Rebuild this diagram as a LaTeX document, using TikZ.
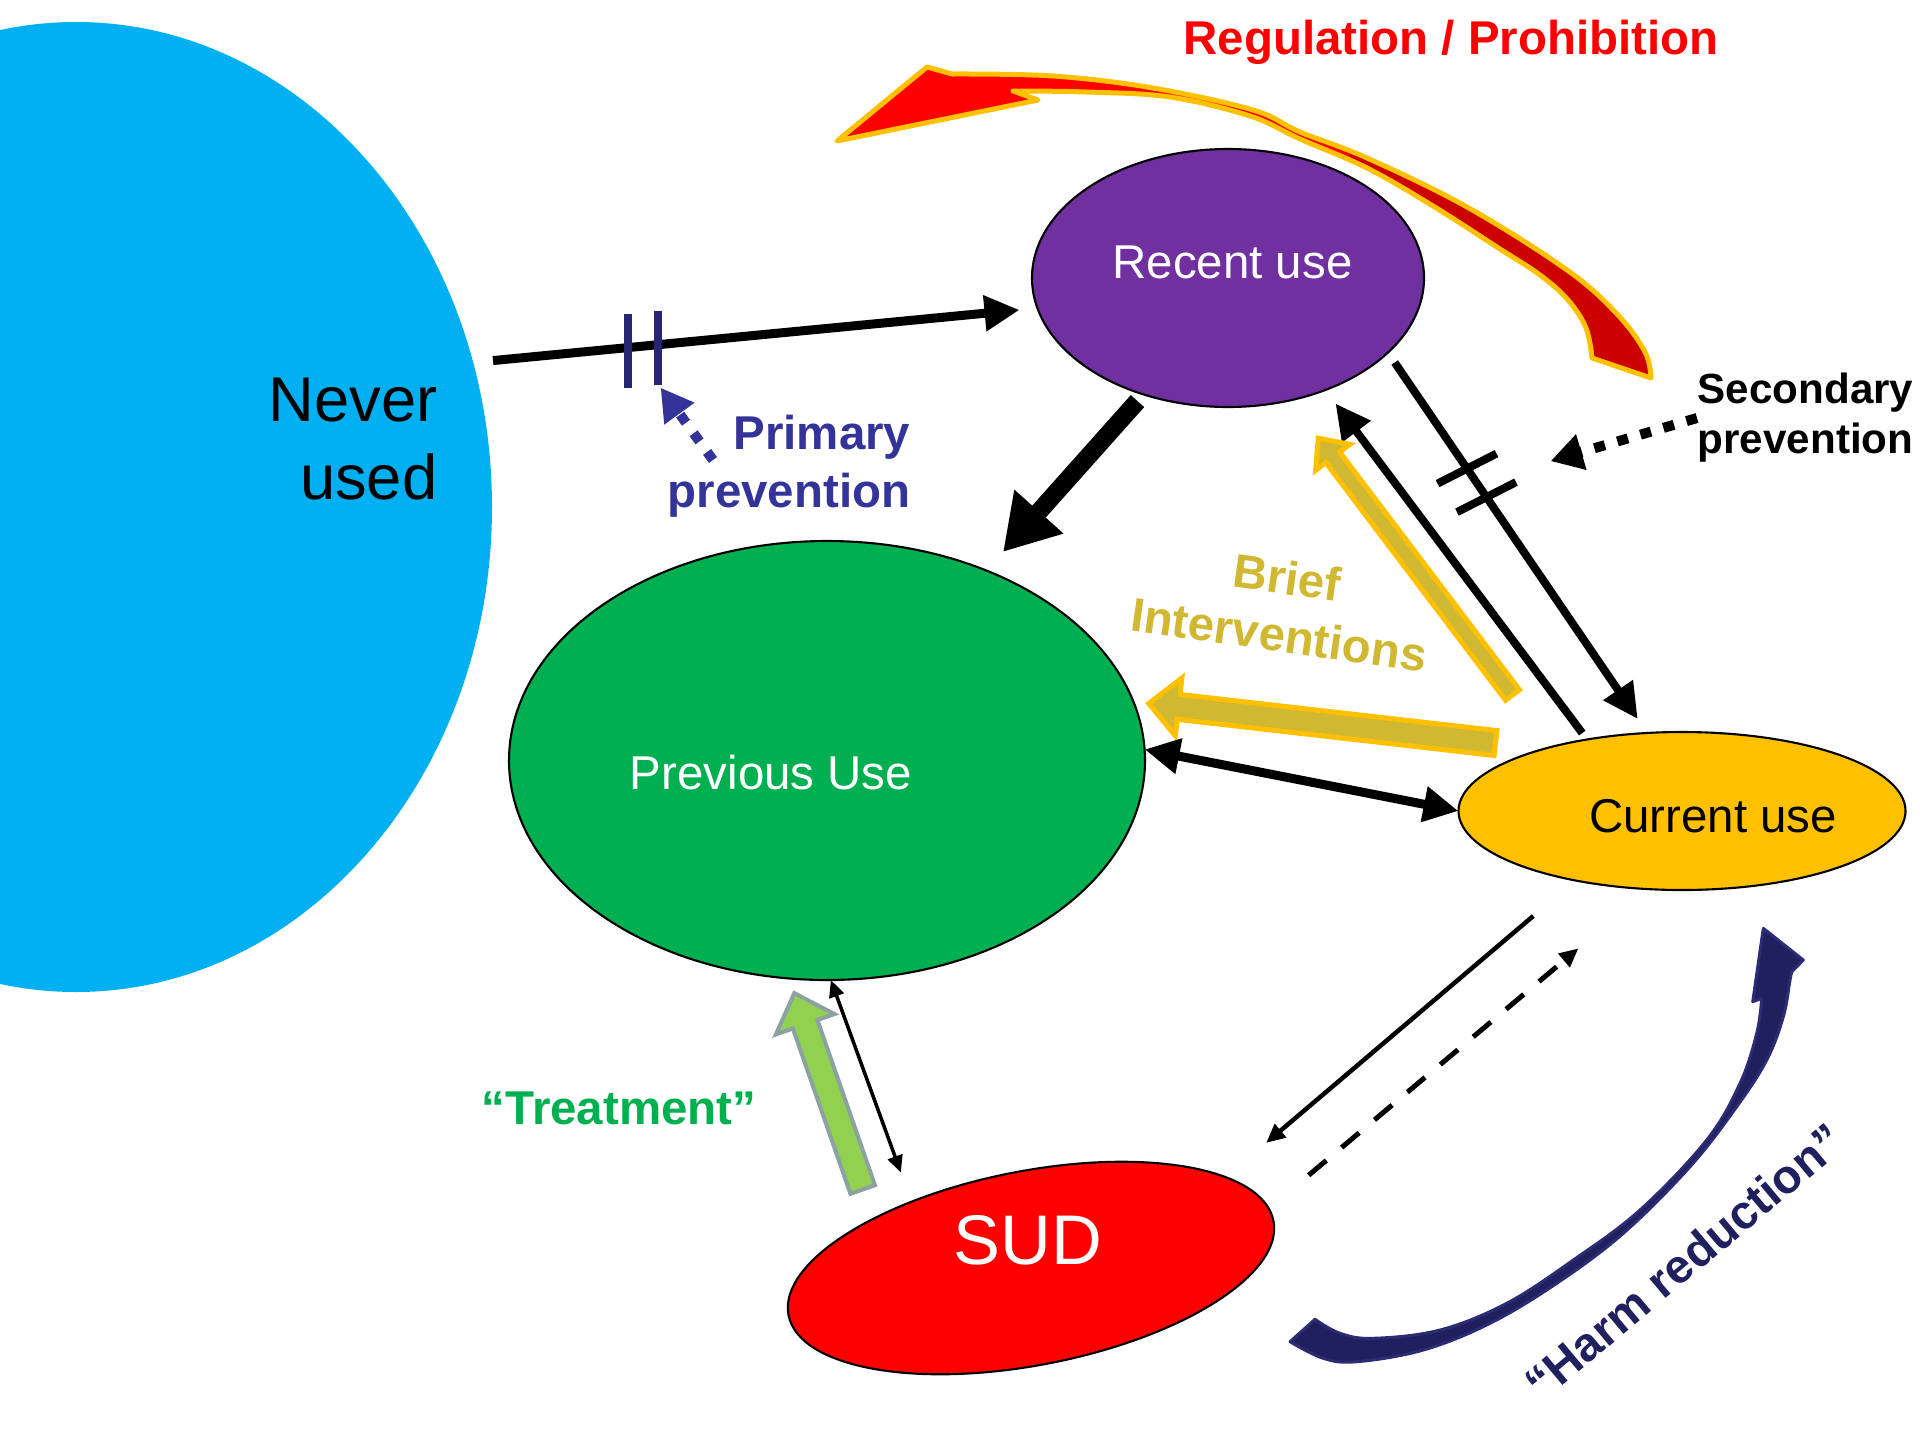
\documentclass[tikz,border=0pt]{standalone}
\usepackage{fontspec}
\setmainfont{Liberation Sans}
\usetikzlibrary{arrows.meta,shapes.geometric,calc}

\definecolor{neverblue}{RGB}{0,176,240}
\definecolor{recentpurple}{RGB}{112,48,160}
\definecolor{prevgreen}{RGB}{0,176,80}
\definecolor{curgold}{RGB}{255,192,0}
\definecolor{sudred}{RGB}{255,0,0}
\definecolor{regdark}{RGB}{204,0,0}
\definecolor{ppblue}{RGB}{51,51,153}
\definecolor{barnavy}{RGB}{38,38,115}
\definecolor{brieffill}{RGB}{209,184,50}
\definecolor{treatfill}{RGB}{146,208,80}
\definecolor{treatedge}{RGB}{140,162,162}
\definecolor{harmnavy}{RGB}{32,32,94}
\definecolor{harmedge}{RGB}{44,44,116}

\begin{document}
\begin{tikzpicture}[
    phase/.style = {ellipse, draw=black, line width=0.6pt, inner sep=0pt, outer sep=0pt},
    txt/.style = {inner sep=0pt, font=\fontsize{13.5}{16.5}\selectfont},
    bold/.style = {inner sep=0pt, font=\bfseries\fontsize{13.5}{16.5}\selectfont},
    flow/.style = {line width=0.09cm, -{Triangle[length=0.35cm, width=0.34cm]}},
    twoway/.style = {line width=0.09cm, {Triangle[length=0.35cm, width=0.34cm]}-{Triangle[length=0.35cm, width=0.34cm]}},
    bigflow/.style = {line width=0.18cm, -{Triangle[length=0.54cm, width=0.62cm]}},
    thinflow/.style = {line width=0.045cm, -{Triangle[length=0.19cm, width=0.17cm]}},
    tinyflow/.style = {line width=0.035cm, {Triangle[length=0.17cm, width=0.15cm]}-{Triangle[length=0.17cm, width=0.15cm]}},
    dotflow/.style = {line width=0.10cm, dash pattern=on 0.10cm off 0.13cm, -{Triangle[length=0.32cm, width=0.35cm]}},
    cutbar/.style = {line width=0.08cm},
    brief/.style = {fill=brieffill, draw=curgold, line width=0.05cm},
    pics/blockarrow/.style n args={4}{code={
        \path[pic actions] (0,-#2) -- ({#1-#4},-#2) -- ({#1-#4},-#3) -- (#1,0)
            -- ({#1-#4},#3) -- ({#1-#4},#2) -- (0,#2) -- cycle;
    }}
    ]

    \useasboundingbox (0,0) rectangle (19.2,-14.4);
    \clip (0,0) rectangle (19.2,-14.4);

    % the five states
    \node[phase, draw=none, fill=neverblue, minimum width=8.32cm, minimum height=9.70cm] (never) at (0.76,-5.07) {};
    \node[txt, font=\fontsize{18}{22}\selectfont, align=right, anchor=east] (nevertext) at (4.38,-4.39) {Never\\used};

    \node[phase, fill=recentpurple, minimum width=3.92cm, minimum height=2.58cm,
        label={[txt, text=white, xshift=0.045cm, yshift=0.16cm]center:Recent use}] (recent) at (12.28,-2.78) {};
    \node[phase, fill=prevgreen, minimum width=6.36cm, minimum height=4.39cm,
        label={[txt, text=white, xshift=-0.56cm, yshift=-0.12cm]center:Previous Use}] (previous) at (8.27,-7.605) {};
    \node[phase, fill=curgold, minimum width=4.47cm, minimum height=1.58cm,
        label={[txt, xshift=0.31cm, yshift=-0.05cm]center:Current use}] (current) at (16.82,-8.11) {};
    \node[phase, fill=sudred, rotate=11, minimum width=4.94cm, minimum height=1.94cm] (sud) at (10.31,-12.68) {};
    \node[txt, text=white, font=\fontsize{20}{24}\selectfont] (sudtext) at (10.28,-12.40) {SUD};

    % regulation / prohibition
    \filldraw[fill=sudred, draw=curgold, line width=0.05cm, line join=round,
        path picture={\fill[regdark] (13.5,0) rectangle (17,-4);}]
        (8.37,-1.41) -- (9.27,-0.67) -- (9.52,-0.74)
        -- plot[smooth, tension=0.6] coordinates {(9.52,-0.74) (10.53,-0.76) (11.53,-0.88) (12.53,-1.10) (13.00,-1.32) (13.67,-1.58) (14.67,-2.07) (15.67,-2.70) (16.17,-3.14) (16.45,-3.52) (16.51,-3.78)}
        -- plot[smooth, tension=0.6] coordinates {(15.92,-3.58) (15.86,-3.28) (15.68,-3.00) (15.40,-2.75) (15.00,-2.49) (14.33,-2.06) (13.67,-1.68) (13.00,-1.39) (12.50,-1.16) (11.70,-0.97) (10.87,-0.92) (10.13,-0.91)}
        -- (10.38,-1.00) -- cycle;
    \node[bold, text=sudred, anchor=base] (regtext) at (14.51,-0.54) {Regulation / Prohibition};

    % never -> recent, cut by primary prevention
    \draw[flow, shorten <=0.2cm, shorten >=0.18cm] (never.20.65)
        -- coordinate[pos=0.274] (cut1) coordinate[pos=0.327] (cut2) (recent.189.4);
    \draw[cutbar, barnavy] ([yshift=0.34cm]cut1) -- ([yshift=-0.40cm]cut1);
    \draw[cutbar, barnavy] ([yshift=0.34cm]cut2) -- ([yshift=-0.40cm]cut2);
    \node[bold, text=ppblue, font=\bfseries\fontsize{13.5}{16.6}\selectfont, align=right, anchor=east] (primary) at (9.11,-4.66) {Primary\\prevention};
    \coordinate (pptail) at (7.13,-4.60);
    \draw[dotflow, ppblue] (pptail) -- ([xshift=0.03cm, yshift=-0.43cm]cut2);

    % recent -> previous
    \draw[bigflow, shorten <=0.09cm, shorten >=0.25cm] (recent.234.6) -- (previous.50.7);

    % recent <-> current, cut by secondary prevention
    \draw[flow, line width=0.08cm, shorten <=0.08cm, shorten >=0.17cm] (current.143.6) -- (recent.311.6);
    \draw[flow, line width=0.08cm, shorten <=0.12cm, shorten >=0.17cm] (recent.335.2)
        -- coordinate[pos=0.305] (cut3) coordinate[pos=0.38] (cut4) (current.114.3);
    \draw[cutbar] ([shift={(-0.295,-0.15)}]cut3) -- ([shift={(0.295,0.15)}]cut3);
    \draw[cutbar] ([shift={(-0.295,-0.15)}]cut4) -- ([shift={(0.295,0.15)}]cut4);
    \node[bold, font=\bfseries\fontsize{12}{14.2}\selectfont, align=left, anchor=west] (secondary) at (16.97,-4.18) {Secondary\\prevention};
    \draw[dotflow, dash pattern=on 0.11cm off 0.13cm, shorten >=0.77cm] (secondary.west) -- ($(cut3)!0.5!(cut4)$);

    % brief interventions
    \pic[brief, rotate=127.1] at (15.125,-6.95) {blockarrow={3.22}{0.087}{0.215}{0.24}};
    \pic[brief, rotate=173.5] at (14.955,-7.43) {blockarrow={3.49}{0.125}{0.29}{0.30}};
    \node[bold, text=brieffill, font=\bfseries\fontsize{13.5}{16.4}\selectfont, align=center, rotate=-8] (brieftext) at (12.83,-6.06) {Brief\\Interventions};

    % previous <-> current
    \draw[twoway] (previous.2) -- (current.west);

    % current <-> sud
    \draw[thinflow, shorten <=0.55cm, shorten >=0.53cm] (current.213.4) -- (sud.14.5);
    \draw[thinflow, line width=0.05cm, dash pattern=on 0.23cm off 0.2cm, shorten <=0.52cm, shorten >=0.92cm] (sud.3.7) -- (current.247.8);

    % previous <-> sud, treatment
    \draw[tinyflow, shorten >=0.31cm] (previous.271.4) -- (sud.140.8);
    \pic[fill=treatfill, draw=treatedge, line width=0.04cm, rotate=109.2] at (8.627,-11.895) {blockarrow={2.08}{0.13}{0.31}{0.33}};
    \node[bold, text=prevgreen] (treattext) at (6.19,-11.08) {“Treatment”};

    % harm reduction
    \filldraw[fill=harmnavy, draw=harmedge, line width=0.03cm, line join=round]
        (17.633,-9.283) -- (18.033,-9.60) -- (17.917,-9.717)
        -- plot[smooth, tension=0.6] coordinates {(17.917,-9.717) (17.90,-9.80) (17.833,-10.167) (17.667,-10.60) (17.367,-11.067) (16.90,-11.667) (16.233,-12.333) (15.567,-12.833) (14.90,-13.233) (14.233,-13.50) (13.567,-13.617) (13.233,-13.583) (12.90,-13.417)}
        -- plot[smooth, tension=0.6] coordinates {(13.15,-13.193) (13.40,-13.333) (13.733,-13.383) (14.40,-13.30) (15.067,-13.033) (15.733,-12.60) (16.40,-12.10) (17.067,-11.40) (17.40,-10.833) (17.567,-10.333) (17.617,-9.983)}
        -- (17.527,-10.017) -- cycle;
    \node[bold, text=harmnavy, rotate=40, anchor=base] (harmtext) at (16.95,-12.745) {“Harm reduction”};

\end{tikzpicture}
\end{document}
